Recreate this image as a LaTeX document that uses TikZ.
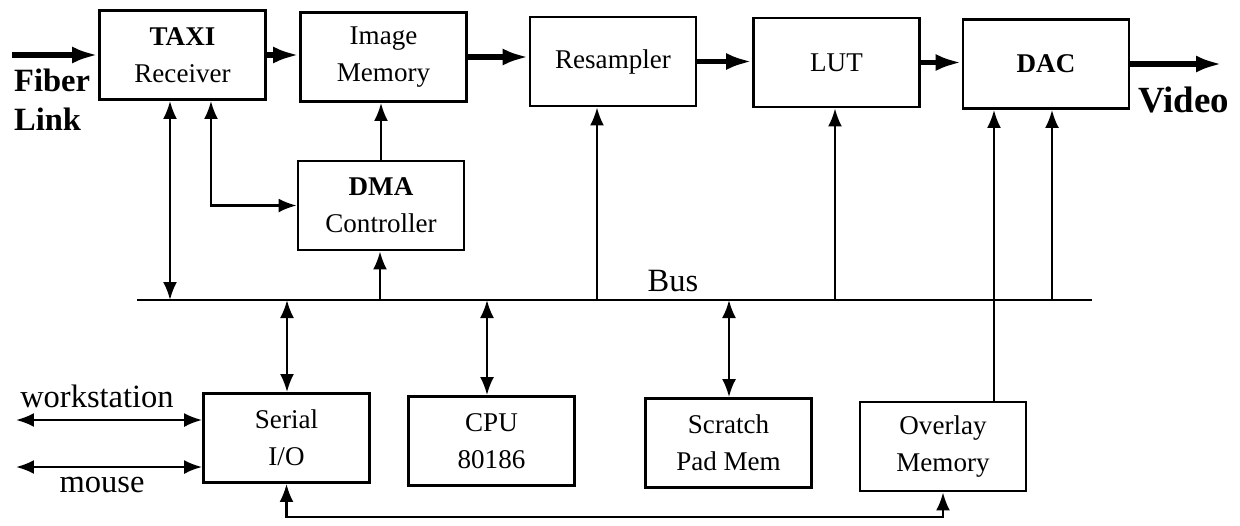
\documentclass[tikz,border=0pt]{standalone}
\usepackage{fontspec}
\setmainfont{Liberation Serif}
\usetikzlibrary{arrows.meta}

\begin{document}
\begin{tikzpicture}[x=0.02cm,y=-0.02cm,
  >={Latex[length=0.36cm,width=0.28cm]},
  blk/.style={draw,line width=1.6pt,minimum width=3.32cm,minimum height=1.78cm,align=center,font=\fontsize{15.4}{21}\selectfont},
  sig/.style={line width=3pt,-{Latex[length=0.52cm,width=0.34cm]}},
  ctl/.style={line width=1.4pt},
  lbl/.style={font=\fontsize{18.5}{22}\selectfont,align=left}]

\useasboundingbox (0,0) rectangle (1240,525);

% blocks
\node[blk] (taxi) at (182.5,55) {\textbf{TAXI}\\Receiver};
\node[blk] (imgmem) at (383.5,57) {Image\\Memory};
\node[blk] (resamp) at (613,61.5) {Resampler};
\node[blk] (lut) at (836.5,62.5) {LUT};
\node[blk] (dac) at (1046,64) {\textbf{DAC}};
\node[blk] (dma) at (381,205.5) {\textbf{DMA}\\Controller};
\node[blk] (serial) at (286.5,438) {Serial\\I/O};
\node[blk] (cpu) at (491.5,441) {CPU\\80186};
\node[blk] (scratch) at (728.5,443) {Scratch\\Pad Mem};
\node[blk] (overlay) at (943,446.5) {Overlay\\Memory};

% video path
\coordinate (fib) at (12,55);
\coordinate (vid) at (1222,64);
\draw[sig] (fib) -- (taxi.west);
\draw[sig] (taxi.east) -- (taxi.east -| imgmem.west);
\draw[sig] (imgmem.east) -- (imgmem.east -| resamp.west);
\draw[sig] (resamp.east) -- (resamp.east -| lut.west);
\draw[sig] (lut.east) -- (lut.east -| dac.west);
\draw[sig] (dac.east) -- (vid);
\node[lbl,anchor=west] (fibtxt) at (8,100) {\textbf{Fiber}\\\textbf{Link}};
\node[lbl,anchor=west,font=\fontsize{21}{24}\selectfont] (vidtxt) at (1132,100) {\textbf{Video}};

% bus
\coordinate (busL) at (137,300);
\coordinate (busR) at (1092,300);
\draw[ctl] (busL) -- (busR);
\node[lbl] (bustxt) at (673,281) {Bus};
\foreach \n/\x in {b1/170,b2/380,b3/287,b4/487,b5/597,b6/729,b7/835,b8/1052}
  \coordinate (\n) at (\x,300);

\draw[ctl,<->] (b1) -- (b1 |- taxi.south);
\draw[ctl,->] (b2) -- (b2 |- dma.south);
\draw[ctl,->] (dma.north) -- (dma.north |- imgmem.south);
\draw[ctl,<->] ([xshift=0.57cm]taxi.south) |- (dma.west);
\draw[ctl,->] (b5) -- (b5 |- resamp.south);
\draw[ctl,->] (b7) -- (b7 |- lut.south);
\draw[ctl,->] (b8) -- (b8 |- dac.south);
\draw[ctl,<->] (b3) -- (b3 |- serial.north);
\draw[ctl,<->] (b4) -- (b4 |- cpu.north);
\draw[ctl,<->] (b6) -- (b6 |- scratch.north);
\coordinate (ov) at ([xshift=1.02cm]overlay.north);
\draw[ctl,->] (ov) -- (ov |- dac.south);

% serial links
\coordinate (ws) at (16,420);
\coordinate (ms) at (16,467);
\draw[ctl,<->] (ws) -- (ws -| serial.west);
\draw[ctl,<->] (ms) -- (ms -| serial.west);
\node[lbl] (wstxt) at (97,396) {workstation};
\node[lbl] (mstxt) at (102,485) {mouse};
\coordinate (bot) at (600,517);
\draw[ctl,<->] (serial.south) |- (bot) -| (overlay.south);

\end{tikzpicture}
\end{document}
